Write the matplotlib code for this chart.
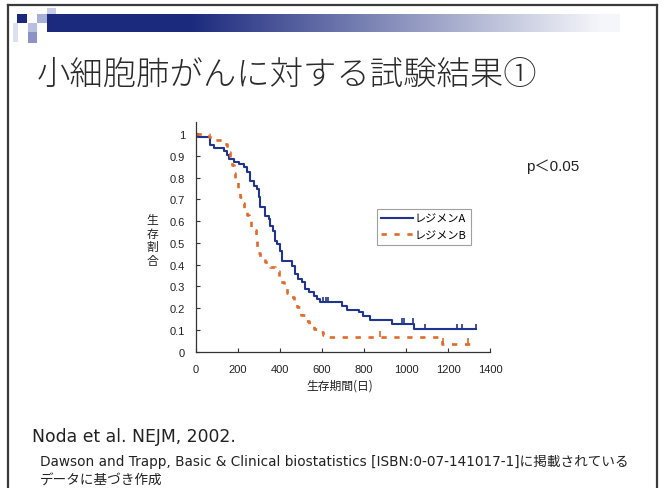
import numpy as np
import matplotlib
matplotlib.use("Agg")
import matplotlib.pyplot as plt
from matplotlib.patches import Rectangle
from matplotlib.lines import Line2D

# ---- survival data (Kaplan-Meier step curves) ----
regimen_a_days = [0, 8, 65, 84, 132, 147, 155, 179, 203, 227, 243, 258, 277, 290,
                  298, 306, 330, 346, 354, 369, 377, 385, 398, 409, 457, 472, 488,
                  504, 520, 536, 560, 576, 591, 694, 718, 774, 797, 829, 932, 1040, 1333]
regimen_a_surv = [1.0, 0.985, 0.95, 0.937, 0.922, 0.905, 0.885, 0.873, 0.86, 0.847,
                  0.824, 0.786, 0.763, 0.747, 0.709, 0.663, 0.625, 0.61, 0.579, 0.556,
                  0.51, 0.495, 0.464, 0.418, 0.395, 0.357, 0.334, 0.318, 0.288, 0.273,
                  0.257, 0.242, 0.227, 0.209, 0.193, 0.181, 0.165, 0.147, 0.129, 0.103, 0.103]
regimen_a_censor_days = [604, 617, 628, 980, 991, 1032, 1091, 1241, 1265, 1333]

regimen_b_days = [0, 60, 84, 124, 147, 163, 171, 179, 187, 198, 211, 220, 230, 243,
                  250, 262, 274, 284, 290, 295, 306, 330, 354, 377, 393, 401, 417, 433,
                  449, 465, 480, 500, 520, 536, 560, 583, 607, 623, 1170, 1305]
regimen_b_surv = [1.0, 0.985, 0.974, 0.954, 0.916, 0.89, 0.857, 0.82, 0.786, 0.74, 0.71,
                  0.685, 0.655, 0.63, 0.605, 0.575, 0.56, 0.53, 0.48, 0.455, 0.43, 0.41,
                  0.39, 0.37, 0.345, 0.32, 0.295, 0.27, 0.25, 0.23, 0.205, 0.17, 0.14,
                  0.12, 0.105, 0.09, 0.075, 0.069, 0.035, 0.035]
regimen_b_censor_days = [877, 1175, 1293]

series_labels = ["レジメンA", "レジメンB"]
x_ticks = [0, 200, 400, 600, 800, 1000, 1200, 1400]
y_ticks = [0, 0.1, 0.2, 0.3, 0.4, 0.5, 0.6, 0.7, 0.8, 0.9, 1.0]

title_text = "小細胞肺がんに対する試験結果①"
x_label = "生存期間(日)"
y_label = "生存割合"
p_text = "p＜0.05"
ref1 = "Noda et al. NEJM, 2002."
ref2 = "Dawson and Trapp, Basic & Clinical biostatistics [ISBN:0-07-141017-1]に掲載されている"
ref3 = "データに基づき作成"

BLUE = "#1f3590"
ORANGE = "#e06a28"
JP = ["Noto Sans CJK JP", "DejaVu Sans"]
LAT_JP = ["Liberation Sans", "Noto Sans CJK JP"]

W, H = 664, 489
fig = plt.figure(figsize=(W / 100, H / 100), dpi=100)
fig.patch.set_facecolor("white")


def fx(px):
    return px / W


def fy(py):
    return 1 - py / H


# ---- slide frame ----
frame_kw = dict(color="#3a3a3a", lw=1.6, transform=fig.transFigure)
fig.add_artist(Line2D([fx(8), fx(657)], [fy(6), fy(6)], **frame_kw))
fig.add_artist(Line2D([fx(8), fx(8)], [fy(6), fy(489)], **frame_kw))
fig.add_artist(Line2D([fx(657), fx(657)], [fy(6), fy(489)], **frame_kw))

# ---- header gradient bar ----
bar_ax = fig.add_axes([fx(47), fy(33), fx(620 - 47), (33 - 15) / H])
bar_ax.set_axis_off()
xs = np.linspace(47, 620, 600)
t = np.clip((xs - 190) / (600 - 190), 0, 1)
navy = np.array([28, 42, 126]) / 255
light = np.array([245, 246, 250]) / 255
cols = navy[None, :] * (1 - t[:, None]) + light[None, :] * t[:, None]
bar_ax.imshow(cols[None, :, :], aspect="auto", extent=[0, 1, 0, 1])

# decorative squares
squares = [
    (17, 15, 10, 9, "#1c2a7e"),
    (37, 15, 10, 9, "#a9b0d8"),
    (47, 9, 9, 6, "#c9cde8"),
    (28, 24, 9, 9, "#b9bfe0"),
    (28, 33, 9, 11, "#8c92c6"),
    (13, 24, 5, 19, "#dde0f1"),
]
for x0, y0, w, h, c in squares:
    fig.add_artist(Rectangle((fx(x0), fy(y0 + h)), fx(w), h / H, color=c,
                             transform=fig.transFigure, lw=0))

# ---- title ----
fig.text(fx(37), fy(76), title_text, fontsize=24, family=JP, color="#2a2a2a",
         va="center", ha="left", weight="light")

# ---- chart ----
ax = fig.add_axes([fx(196), fy(352.7), fx(490 - 196), (352.7 - 123) / H])
ax.step(regimen_a_days, regimen_a_surv, where="post", color=BLUE, lw=1.5,
        label=series_labels[0])
ax.step(regimen_b_days, regimen_b_surv, where="post", color=ORANGE, lw=1.9,
        dashes=(2.0, 2.9), label=series_labels[1])
a_cens = [regimen_a_surv[np.searchsorted(regimen_a_days, d, side="right") - 1]
          for d in regimen_a_censor_days]
b_cens = [regimen_b_surv[np.searchsorted(regimen_b_days, d, side="right") - 1]
          for d in regimen_b_censor_days]
ax.plot(regimen_a_censor_days, [v + 0.012 for v in a_cens], ls="none",
        marker="|", ms=5, mew=1.2, color=BLUE)
ax.plot(regimen_b_censor_days, [v + 0.012 for v in b_cens], ls="none",
        marker="|", ms=4, mew=1.2, color=ORANGE)

ax.set_xlim(0, 1400)
ax.set_ylim(0, 1.055)
ax.set_xticks(x_ticks)
ax.set_yticks(y_ticks)
ax.set_yticklabels([f"{v:g}" for v in y_ticks])
for s in ("top", "right"):
    ax.spines[s].set_visible(False)
for s in ("left", "bottom"):
    ax.spines[s].set_color("#333333")
    ax.spines[s].set_linewidth(0.9)
ax.tick_params(axis="both", direction="in", length=3, width=0.8, color="#333333",
               labelsize=8, labelcolor="#222222")
ax.tick_params(axis="x", pad=9)
ax.tick_params(axis="y", pad=8)
for lab in ax.get_xticklabels() + ax.get_yticklabels():
    lab.set_family("Liberation Sans")
ax.set_facecolor("none")

leg = ax.legend(loc="upper left", bbox_to_anchor=(fx(377), fy(210)),
                bbox_transform=fig.transFigure, prop={"family": JP, "size": 8},
                frameon=True, fancybox=False, edgecolor="#888888",
                handlelength=2.8, handletextpad=0.2, borderpad=0.4,
                labelspacing=0.6, borderaxespad=0)
leg.get_frame().set_linewidth(0.8)

fig.text(fx(340), fy(386), x_label, fontsize=8.5, family=JP, color="#222222",
         ha="center", va="center")
fig.text(fx(152), fy(241), "\n".join(y_label), fontsize=8.5, family=JP,
         color="#222222", ha="center", va="center", linespacing=1.05)

fig.text(fx(526), fy(167), p_text, fontsize=11, family=LAT_JP, color="#222222",
         ha="left", va="center")

# ---- references ----
fig.text(fx(32), fy(437), ref1, fontsize=12.4, family=["DejaVu Sans"],
         color="#222222", ha="left", va="center")
fig.text(fx(40), fy(462), ref2, fontsize=9.8, family=["DejaVu Sans", "Noto Sans CJK JP"],
         color="#222222", ha="left", va="center")
fig.text(fx(40), fy(480), ref3, fontsize=9.8, family=JP,
         color="#222222", ha="left", va="center")

fig.savefig("out.png", dpi=100, facecolor="white")
